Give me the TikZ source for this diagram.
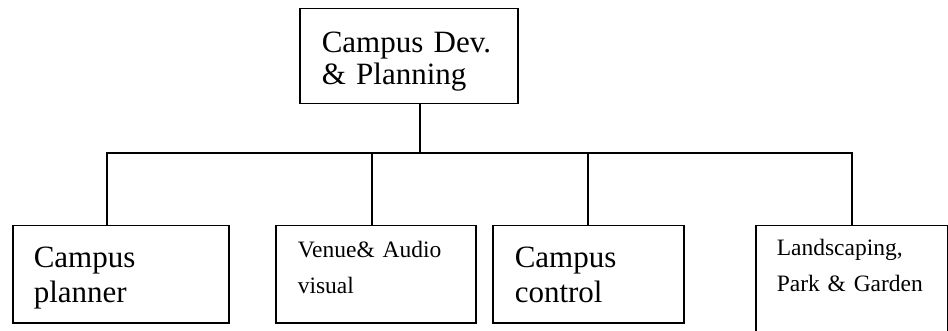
\documentclass[tikz,border=0pt]{standalone}
\usepackage{fontspec}
\setmainfont{Liberation Serif}
\begin{document}
\begin{tikzpicture}[x=1pt,y=-1pt,line width=1.5pt,
	box/.style={draw,rectangle,anchor=north west,align=left,inner ysep=0pt},
	big/.style={font=\fontsize{31}{35}\selectfont},
	small/.style={font=\fontsize{23.5}{36}\selectfont}]
	\useasboundingbox (0,0) rectangle (948,331);
	\node[box,inner xsep=22pt,text width=174pt,text height=44pt,text depth=51pt,font=\fontsize{31}{32}\selectfont] (top) at (299,8) {Campus Dev.\\ \& Planning};
	\node[box,big,inner xsep=21pt,text width=174pt,text height=42pt,text depth=55pt] (planner) at (12,225) {Campus\\ planner};
	\node[box,small,inner xsep=22pt,text width=156pt,text height=32pt,text depth=65pt] (venue) at (275,225) {Venue\& Audio\\ visual};
	\node[box,big,inner xsep=22pt,text width=147pt,text height=42pt,text depth=55pt] (control) at (492,225) {Campus\\ control};
	\node[box,small,inner xsep=21pt,text width=150pt,text height=30pt,text depth=90pt] (garden) at (755,225) {Landscaping,\\ Park \& Garden};
	% bus line
	\coordinate (stem) at (420,153);
	\coordinate (d1) at (107,153);
	\coordinate (d2) at (372,153);
	\coordinate (d3) at (588,153);
	\coordinate (d4) at (852,153);
	\draw (stem) -- (stem |- top.south);
	\draw (d1 |- planner.north) -- (d1) -- (d4) -- (d4 |- garden.north);
	\draw (d2) -- (d2 |- venue.north);
	\draw (d3) -- (d3 |- control.north);
\end{tikzpicture}
\end{document}
